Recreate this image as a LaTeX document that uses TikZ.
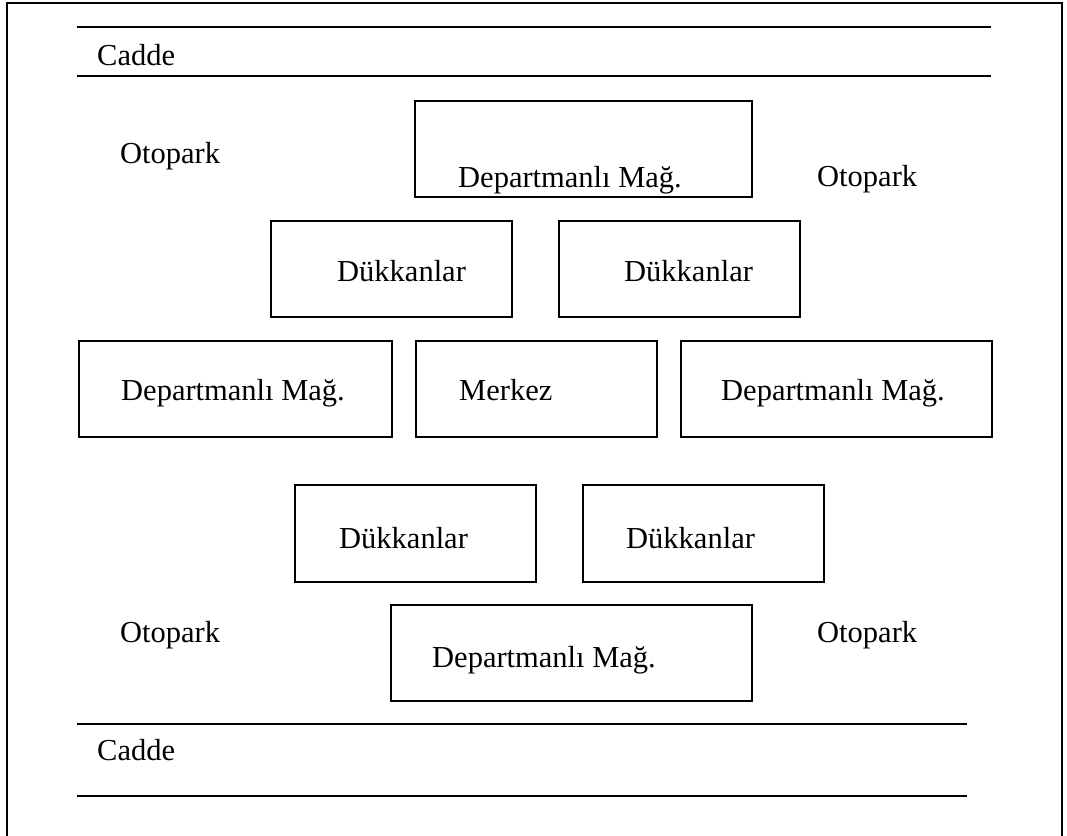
\documentclass[tikz,border=0pt]{standalone}
\usepackage{fontspec}
\setmainfont{Liberation Serif}
\begin{document}
\begin{tikzpicture}[x=1pt,y=-1pt,
  lbl/.style={anchor=base west,inner sep=0pt,font=\fontsize{30.5}{35}\selectfont},
  block/.style={draw,line width=1.5pt,anchor=north west,inner sep=0pt}]
\useasboundingbox (0,0) rectangle (1067,835);
% outer frame (runs past the lower page edge)
\draw[line width=2.4pt] (7,860) -- (7,3) -- (1062,3) -- (1062,860);

% streets
\coordinate (s1a) at (77,27);  \coordinate (s1b) at (295,27);  \coordinate (s1c) at (991,27);
\coordinate (s2a) at (77,76);  \coordinate (s2b) at (991,76);
\coordinate (s3a) at (77,724); \coordinate (s3b) at (295,724); \coordinate (s3c) at (967,724);
\coordinate (s4a) at (77,796); \coordinate (s4b) at (967,796);
\draw[line width=1.1pt] (s1a) -- (s1b);
\draw[line width=2pt] (s1b) -- (s1c);
\draw[line width=2pt] (s2a) -- (s2b);
\draw[line width=1.1pt] (s3a) -- (s3b);
\draw[line width=2pt] (s3b) -- (s3c);
\draw[line width=2pt] (s4a) -- (s4b);
\node[lbl] (caddeT) at (97,65) {Cadde};
\node[lbl] (caddeB) at (97,760) {Cadde};

% parking labels
\node[lbl] (parkTL) at (120,163) {Otopark};
\node[lbl] (parkTR) at (817,186) {Otopark};
\node[lbl] (parkBL) at (120,642) {Otopark};
\node[lbl] (parkBR) at (817,642) {Otopark};

% blocks
\node[block,minimum width=337pt,minimum height=96pt] (b1) at (414,100) {};
\node[lbl] (t1) at (458,187) {Departmanlı Mağ.};
\node[block,minimum width=241pt,minimum height=96pt] (b2) at (270,220) {};
\node[lbl] (t2) at (337,281) {Dükkanlar};
\node[block,minimum width=241pt,minimum height=96pt] (b3) at (558,220) {};
\node[lbl] (t3) at (624,281) {Dükkanlar};
\node[block,minimum width=313pt,minimum height=96pt] (b4) at (78,340) {};
\node[lbl] (t4) at (121,400) {Departmanlı Mağ.};
\node[block,minimum width=241pt,minimum height=96pt] (b5) at (415,340) {};
\node[lbl] (t5) at (459,400) {Merkez};
\node[block,minimum width=311pt,minimum height=96pt] (b6) at (680,340) {};
\node[lbl] (t6) at (721,400) {Departmanlı Mağ.};
\node[block,minimum width=241pt,minimum height=97pt] (b7) at (294,484) {};
\node[lbl] (t7) at (339,548) {Dükkanlar};
\node[block,minimum width=241pt,minimum height=97pt] (b8) at (582,484) {};
\node[lbl] (t8) at (626,548) {Dükkanlar};
\node[block,minimum width=361pt,minimum height=96pt] (b9) at (390,604) {};
\node[lbl] (t9) at (432,667) {Departmanlı Mağ.};
\end{tikzpicture}
\end{document}
